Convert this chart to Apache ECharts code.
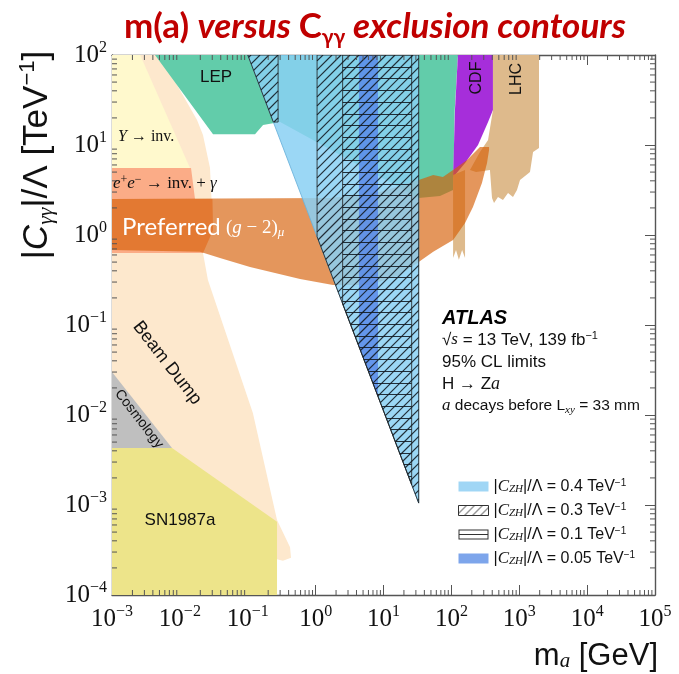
<!DOCTYPE html>
<html>
<head>
<meta charset="utf-8">
<script src="https://cdn.jsdelivr.net/npm/echarts@6/dist/echarts.min.js"></script>
<style>
  html, body { margin: 0; padding: 0; background: #fff; }
  #chart { width: 679px; height: 674px; }
</style>
</head>
<body>
<div id="chart"></div>
<script>
// Axis decades (powers of ten carrying tick labels)
const xDecades = [-3, -2, -1, 0, 1, 2, 3, 4, 5];
const yDecades = [-4, -3, -2, -1, 0, 1, 2];

// Excluded regions: vertices as [m_a in GeV, |C_γγ|/Λ in TeV^-1]
const beamDump = [[0.001,100],[0.0051,100],[0.0179,18.9],[0.0219,12.9],[0.0278,5.55],[0.0308,1.14],[0.0219,0.63],[0.0259,0.316],[0.119,0.0105],[0.27,6.8e-4],[0.42,3.4e-4],[0.434,2.6e-4],[0.33,2.4e-4],[0.27,2.5e-4],[0.001,2.5e-4]];
const upsilonInv = [[0.001,100],[0.0026,100],[0.0141,5.55],[0.001,5.55]];
const eeInvGamma = [[0.001,5.55],[0.0146,5.55],[0.0167,2.51],[0.0302,2.51],[0.0308,1.14],[0.0219,0.63],[0.001,0.63]];
const lep = [[0.0043,100],[0.0308,13.2],[0.128,13.2],[0.168,16.7],[0.3,18],[33,2.58],[68,2.71],[106,3.16],[112,24.5],[125,100]];
const cosmology = [[0.001,0.030],[0.00766,0.0043],[0.001,0.0043]];
const sn1987a = [[0.001,0.0043],[0.00766,0.0043],[0.27,6.5e-4],[0.27,1e-4],[0.001,1e-4]];
const cdf = [[125,100],[410,100],[410,24.5],[347,18],[247,10],[159,6.3],[113,4.64],[106,4.41],[113,24.5]];
const lhc = [[410,100],[1954,100],[1954,9.26],[1597,8.36],[1440,5.0],[1216,4.52],[1026,4.08],[926,3.16],[809,2.64],[683,2.93],[576,2.45],[486,2.64],[425,2.27],[397,2.58],[370,5.27],[231,5.0],[188,5.27],[264,8.36],[347,11.4],[410,24.5]];
const lhcLowMass = [[106,4.64],[159,5.27],[159,0.555],[144,0.68],[129,0.53],[117,0.68],[106,0.555]];
const gm2Preferred = [[0.001,2.51],[1.63,2.58],[8.9,3.0],[33,4.08],[54,4.64],[75,4.41],[106,5.27],[170,6.81],[264,9.5],[359,9.5],[359,8.8],[335,6.3],[282,3.78],[208,2.05],[159,1.36],[106,0.88],[54,0.65],[33,0.50],[17.5,0.36],[6.3,0.278],[1.8,0.278],[0.59,0.325],[0.108,0.44],[0.039,0.555],[0.0198,0.65],[0.001,0.68]];

// ATLAS H→Za limits for several |C_ZH|/Λ values
const atlasCzh04 = [[0.1,100],[33,100],[33,0.00105]];
const atlasCzh03a = [[0.1,100],[0.28,100],[0.28,18],[0.238,18]];
const atlasCzh03b = [[1.05,100],[33,100],[33,0.00105],[1.05,0.957]];
const atlasCzh01 = [[2.5,100],[26,100],[26,0.00168],[2.5,0.172]];
const atlasCzh005 = [[4.35,100],[8.3,100],[8.3,0.0161],[4.35,0.0577]];

const X_MIN = 1e-3, X_MAX = 1e5, Y_MIN = 1e-4, Y_MAX = 1e2;

// Small hatched tile for the legend swatch
function swatchPattern() {
  const s = 8;
  const c = document.createElement('canvas');
  c.width = s; c.height = s;
  const g = c.getContext('2d');
  g.fillStyle = '#fff'; g.fillRect(0, 0, s, s);
  g.strokeStyle = 'rgba(25,25,25,0.9)'; g.lineWidth = 1;
  g.beginPath();
  g.moveTo(-1, s + 1); g.lineTo(s + 1, -1);
  g.moveTo(-1, 1); g.lineTo(1, -1);
  g.moveTo(s - 1, s + 1); g.lineTo(s + 1, s - 1);
  g.stroke();
  return { image: c, repeat: 'repeat' };
}
const diagHatchSwatch = swatchPattern();

function region(name, polys, st, z) {
  const list = Array.isArray(polys[0][0]) ? polys : [polys];
  return {
    type: 'custom', name: name, coordinateSystem: 'cartesian2d', silent: true, clip: true,
    z: z, data: [list[0][0]], encode: { x: 0, y: 1 },
    itemStyle: { color: st.fill },
    renderItem: function (params, api) {
      return {
        type: 'group',
        children: list.map(function (pts) {
          return {
            type: 'polygon',
            shape: { points: pts.map(function (p) { return api.coord(p); }) },
            style: { fill: st.fill, stroke: st.stroke || null, lineWidth: st.lineWidth || 0 }
          };
        })
      };
    }
  };
}

// Clip the infinite line p0 + s*d to a convex pixel polygon
function clipToPolygon(poly, p0, d) {
  let smin = Infinity, smax = -Infinity;
  for (let i = 0; i < poly.length; i++) {
    const a = poly[i], b = poly[(i + 1) % poly.length];
    const ex = b[0] - a[0], ey = b[1] - a[1];
    const den = d[0] * ey - d[1] * ex;
    if (Math.abs(den) < 1e-9) continue;
    const wx = a[0] - p0[0], wy = a[1] - p0[1];
    const s = (wx * ey - wy * ex) / den;
    const t = (wx * d[1] - wy * d[0]) / den;
    if (t >= -1e-9 && t <= 1 + 1e-9) { smin = Math.min(smin, s); smax = Math.max(smax, s); }
  }
  if (!(smax > smin)) return null;
  return { x1: p0[0] + smin * d[0], y1: p0[1] + smin * d[1], x2: p0[0] + smax * d[0], y2: p0[1] + smax * d[1] };
}

const hatchColor = 'rgba(20,28,36,0.9)';
function hatchRegion(name, polys, kind, z) {
  const list = Array.isArray(polys[0][0]) ? polys : [polys];
  return {
    type: 'custom', name: name, coordinateSystem: 'cartesian2d', silent: true, clip: true,
    z: z, data: [list[0][0]], encode: { x: 0, y: 1 },
    itemStyle: { color: 'rgba(0,0,0,0)' },
    renderItem: function (params, api) {
      const top = api.coord([X_MIN, Y_MAX])[1];
      const children = [];
      list.forEach(function (pts) {
        const px = pts.map(function (p) { return api.coord(p); });
        if (kind === 'diag') {
          const sums = px.map(function (p) { return p[0] + p[1]; });
          const pitch = 9;
          for (let c = Math.ceil(Math.min.apply(null, sums) / pitch) * pitch; c <= Math.max.apply(null, sums); c += pitch) {
            const seg = clipToPolygon(px, [c, 0], [1, -1]);
            if (seg) children.push({ type: 'line', shape: seg, style: { stroke: hatchColor, lineWidth: 1.2 } });
          }
        } else {
          const ys = px.map(function (p) { return p[1]; });
          const pitch = 11.7;
          for (let y = top + pitch; y <= Math.max.apply(null, ys); y += pitch) {
            const seg = clipToPolygon(px, [0, Math.round(y) + 0.5], [1, 0]);
            if (seg) children.push({ type: 'line', shape: seg, style: { stroke: hatchColor, lineWidth: 1 } });
          }
        }
        children.push({ type: 'polygon', shape: { points: px }, style: { fill: 'none', stroke: 'rgba(30,30,30,0.8)', lineWidth: 1 } });
      });
      return { type: 'group', children: children };
    }
  };
}

function minorValues(decades) {
  const out = [];
  for (let i = 0; i < decades.length - 1; i++) {
    for (let k = 2; k <= 9; k++) out.push(k * Math.pow(10, decades[i]));
  }
  return out;
}

const frameColor = '#555';
function minorTicks(axis) {
  const vals = minorValues(axis === 'x' ? xDecades : yDecades);
  return {
    type: 'custom', silent: true, z: 60, clip: false,
    data: vals.map(function (v) { return axis === 'x' ? [v, Y_MIN] : [X_MIN, v]; }),
    encode: { x: 0, y: 1 },
    renderItem: function (params, api) {
      const L = 5;
      let a, b, s1, s2;
      if (axis === 'x') {
        const v = api.value(0);
        a = api.coord([v, Y_MIN]); b = api.coord([v, Y_MAX]);
        s1 = { x1: a[0], y1: a[1], x2: a[0], y2: a[1] - L };
        s2 = { x1: b[0], y1: b[1], x2: b[0], y2: b[1] + L };
      } else {
        const v = api.value(1);
        a = api.coord([X_MIN, v]); b = api.coord([X_MAX, v]);
        s1 = { x1: a[0], y1: a[1], x2: a[0] + L, y2: a[1] };
        s2 = { x1: b[0], y1: b[1], x2: b[0] - L, y2: b[1] };
      }
      return {
        type: 'group', children: [
          { type: 'line', shape: s1, style: { stroke: frameColor, lineWidth: 1 } },
          { type: 'line', shape: s2, style: { stroke: frameColor, lineWidth: 1 } }
        ]
      };
    }
  };
}

function powLabel(v) {
  const e = Math.round(Math.log10(v));
  return '{b|10}{s|' + (e < 0 ? '\u2212' + (-e) : String(e)) + '}';
}
const tickRich = {
  b: { fontFamily: 'Liberation Serif', fontSize: 25, lineHeight: 30, color: '#111' },
  s: { fontFamily: 'Liberation Serif', fontSize: 16, lineHeight: 16, verticalAlign: 'top', color: '#111' }
};

function logAxis(pos, min, max, labels) {
  const isX = pos === 'bottom' || pos === 'top';
  return {
    type: 'log', logBase: 10, position: pos, min: min, max: max,
    splitNumber: isX ? 8 : 6,
    axisLine: { show: true, lineStyle: { color: frameColor, width: 1.4 } },
    axisTick: { show: true, inside: true, length: 10, lineStyle: { color: frameColor, width: 1 } },
    splitLine: { show: false },
    axisLabel: labels ? {
      show: true, formatter: powLabel, rich: tickRich, margin: isX ? 9 : 5
    } : { show: false }
  };
}

const names = {
  c04: 'CZH 0.4', c03: 'CZH 0.3', c01: 'CZH 0.1', c005: 'CZH 0.05'
};
const legendValues = {};
legendValues[names.c04] = '0.4'; legendValues[names.c03] = '0.3';
legendValues[names.c01] = '0.1'; legendValues[names.c005] = '0.05';

const serif = 'Liberation Serif';
const sans = 'Liberation Sans';

const option = {
  animation: false,
  backgroundColor: '#fff',
  grid: { left: 112, right: 24, top: 55, bottom: 79, containLabel: false },
  xAxis: [logAxis('bottom', X_MIN, X_MAX, true), logAxis('top', X_MIN, X_MAX, false)],
  yAxis: [logAxis('left', Y_MIN, Y_MAX, true), logAxis('right', Y_MIN, Y_MAX, false)],
  title: {
    left: 119, top: 1,
    text: '{n|m(a) }{i|versus }{n|C}{sub|\u03b3\u03b3}{i| exclusion contours}',
    textStyle: {
      rich: {
        n: { fontFamily: 'Lato', fontSize: 35, lineHeight: 42, color: '#c00000' },
        i: { fontFamily: 'Lato', fontStyle: 'italic', fontSize: 35, lineHeight: 42, color: '#c00000' },
        sub: { fontFamily: 'Lato', fontSize: 21, lineHeight: 26, verticalAlign: 'bottom', color: '#c00000' }
      }
    }
  },
  legend: {
    orient: 'vertical', left: 453, top: 473, itemWidth: 30, itemHeight: 10, itemGap: 7,
    selectedMode: false,
    data: [
      { name: names.c04, icon: 'rect', itemStyle: { color: 'rgb(160,214,245)', borderWidth: 0 } },
      { name: names.c03, icon: 'rect', itemStyle: { color: diagHatchSwatch, borderColor: '#333', borderWidth: 1 } },
      { name: names.c01, icon: 'path://M0,0H30V1H0Z M0,4.5H30V5.5H0Z M0,9H30V10H0Z M0,0H1V10H0Z M29,0H30V10H29Z', itemStyle: { color: '#333' } },
      { name: names.c005, icon: 'rect', itemStyle: { color: 'rgb(125,165,235)', borderWidth: 0 } }
    ],
    formatter: function (n) {
      return '|{i|C}{sub|ZH}|/\u039b = ' + legendValues[n] + ' TeV{sup|\u22121}';
    },
    textStyle: {
      fontFamily: sans, fontSize: 16, color: '#111', lineHeight: 17,
      rich: {
        i: { fontFamily: serif, fontStyle: 'italic', fontSize: 17, color: '#111' },
        sub: { fontFamily: serif, fontStyle: 'italic', fontSize: 11, lineHeight: 11, verticalAlign: 'bottom', color: '#111' },
        sup: { fontFamily: sans, fontSize: 10, lineHeight: 10, verticalAlign: 'top', color: '#111' }
      }
    }
  },
  series: [
    region('Beam Dump', beamDump, { fill: 'rgb(253,232,205)' }, 1),
    region('Y inv', upsilonInv, { fill: 'rgb(255,249,205)' }, 2),
    region('ee inv gamma', eeInvGamma, { fill: 'rgb(251,172,135)' }, 3),
    region('LEP', lep, { fill: 'rgb(98,204,170)' }, 4),
    region('Cosmology', cosmology, { fill: 'rgb(191,191,191)' }, 5),
    region('SN1987a', sn1987a, { fill: 'rgb(237,228,138)' }, 6),
    region('CDF', cdf, { fill: 'rgb(166,46,218)' }, 7),
    region('LHC', [lhc, lhcLowMass], { fill: 'rgb(222,186,140)' }, 8),
    region('g-2', gm2Preferred, { fill: 'rgba(214,94,5,0.65)' }, 9),
    region(names.c04, atlasCzh04, { fill: 'rgba(138,208,243,0.85)', stroke: 'rgba(110,180,220,0.9)', lineWidth: 1 }, 10),
    region(names.c005, atlasCzh005, { fill: 'rgba(86,134,232,0.8)' }, 11),
    hatchRegion(names.c01, atlasCzh01, 'horiz', 12),
    hatchRegion(names.c03, [atlasCzh03a, atlasCzh03b], 'diag', 13),
    minorTicks('x'),
    minorTicks('y')
  ],
  graphic: [
    { type: 'text', x: 216, y: 77, z: 100, style: { text: 'LEP', font: '17px "Liberation Sans"', fill: '#111', align: 'center', verticalAlign: 'middle' } },
    { type: 'text', x: 118, y: 137, z: 100, style: { text: '{i|\u03a5} \u2192 inv.', font: '16px "Liberation Serif"', fill: '#111', align: 'left', verticalAlign: 'middle',
      rich: { i: { fontFamily: serif, fontStyle: 'italic', fontSize: 16, fill: '#111' } } } },
    { type: 'text', x: 113, y: 184, z: 100, style: { text: '{i|e}{sup|+}{i|e}{sup|\u2212} \u2192 inv. + {i|\u03b3}', font: '17px "Liberation Serif"', fill: '#111', align: 'left', verticalAlign: 'middle',
      rich: {
        i: { fontFamily: serif, fontStyle: 'italic', fontSize: 17, lineHeight: 21, fill: '#111' },
        sup: { fontFamily: serif, fontSize: 12, lineHeight: 12, verticalAlign: 'top', fill: '#111' }
      } } },
    { type: 'text', x: 122, y: 227, z: 100, style: { text: 'Preferred', font: '24px Lato', fill: '#fff', align: 'left', verticalAlign: 'middle' } },
    { type: 'text', x: 226, y: 228, z: 100, style: { text: '({i|g} \u2212 2){sub|\u03bc}', font: '19px "Liberation Serif"', fill: '#fff', align: 'left', verticalAlign: 'middle',
      rich: {
        i: { fontFamily: serif, fontStyle: 'italic', fontSize: 19, lineHeight: 23, fill: '#fff' },
        sub: { fontFamily: serif, fontStyle: 'italic', fontSize: 13, lineHeight: 13, verticalAlign: 'bottom', fill: '#fff' }
      } } },
    { type: 'text', x: 477, y: 78, rotation: Math.PI / 2, z: 100, style: { text: 'CDF', font: '16px "Liberation Sans"', fill: '#111', align: 'center', verticalAlign: 'middle' } },
    { type: 'text', x: 517, y: 79, rotation: Math.PI / 2, z: 100, style: { text: 'LHC', font: '16px "Liberation Sans"', fill: '#111', align: 'center', verticalAlign: 'middle' } },
    { type: 'text', x: 167, y: 363, rotation: -0.91, z: 100, style: { text: 'Beam Dump', font: '18px "Liberation Sans"', fill: '#111', align: 'center', verticalAlign: 'middle' } },
    { type: 'text', x: 139, y: 419, rotation: -0.91, z: 100, style: { text: 'Cosmology', font: '14px "Liberation Sans"', fill: '#111', align: 'center', verticalAlign: 'middle' } },
    { type: 'text', x: 180, y: 520, z: 100, style: { text: 'SN1987a', font: '17px "Liberation Sans"', fill: '#111', align: 'center', verticalAlign: 'middle' } },
    { type: 'text', x: 442, y: 318, z: 100, style: { text: 'ATLAS', font: 'italic bold 20px "Liberation Sans"', fill: '#000', align: 'left', verticalAlign: 'middle' } },
    { type: 'text', x: 442, y: 340, z: 100, style: { text: '\u221a{i|s} = 13 TeV, 139 fb{sup|\u22121}', font: '17px "Liberation Sans"', fill: '#111', align: 'left', verticalAlign: 'middle',
      rich: {
        i: { fontFamily: serif, fontStyle: 'italic', fontSize: 17, lineHeight: 19, fill: '#111' },
        sup: { fontFamily: sans, fontSize: 11, lineHeight: 11, verticalAlign: 'top', fill: '#111' }
      } } },
    { type: 'text', x: 442, y: 362, z: 100, style: { text: '95% CL limits', font: '17px "Liberation Sans"', fill: '#111', align: 'left', verticalAlign: 'middle' } },
    { type: 'text', x: 442, y: 384, z: 100, style: { text: 'H \u2192 Z{i|a}', font: '17px "Liberation Sans"', fill: '#111', align: 'left', verticalAlign: 'middle',
      rich: { i: { fontFamily: serif, fontStyle: 'italic', fontSize: 18, fill: '#111' } } } },
    { type: 'text', x: 442, y: 406, z: 100, style: { text: '{i|a} decays before L{sub|xy} = 33 mm', font: '15.5px "Liberation Sans"', fill: '#111', align: 'left', verticalAlign: 'middle',
      rich: {
        i: { fontFamily: serif, fontStyle: 'italic', fontSize: 17, lineHeight: 19, fill: '#111' },
        sub: { fontFamily: serif, fontStyle: 'italic', fontSize: 11, lineHeight: 11, verticalAlign: 'bottom', fill: '#111' }
      } } },
    { type: 'text', x: 37, y: 155, rotation: Math.PI / 2, z: 100, style: { text: '|{i|C}{sub|\u03b3\u03b3}|/\u039b [TeV{sup|\u22121}]', font: '35px "Liberation Sans"', fill: '#111', align: 'center', verticalAlign: 'middle',
      rich: {
        i: { fontFamily: sans, fontStyle: 'italic', fontSize: 35, lineHeight: 41, fill: '#111' },
        sub: { fontFamily: serif, fontStyle: 'italic', fontSize: 22, lineHeight: 22, verticalAlign: 'bottom', fill: '#111' },
        sup: { fontFamily: sans, fontSize: 22, lineHeight: 22, verticalAlign: 'top', fill: '#111' }
      } } },
    { type: 'text', x: 658, y: 656, z: 100, style: { text: 'm{sub|a} [GeV]', font: '31px "Liberation Sans"', fill: '#111', align: 'right', verticalAlign: 'middle',
      rich: {
        sub: { fontFamily: serif, fontStyle: 'italic', fontSize: 21, lineHeight: 21, verticalAlign: 'bottom', fill: '#111' }
      } } }
  ]
};

const chart = echarts.init(document.getElementById('chart'));
chart.setOption(option);
</script>
</body>
</html>
